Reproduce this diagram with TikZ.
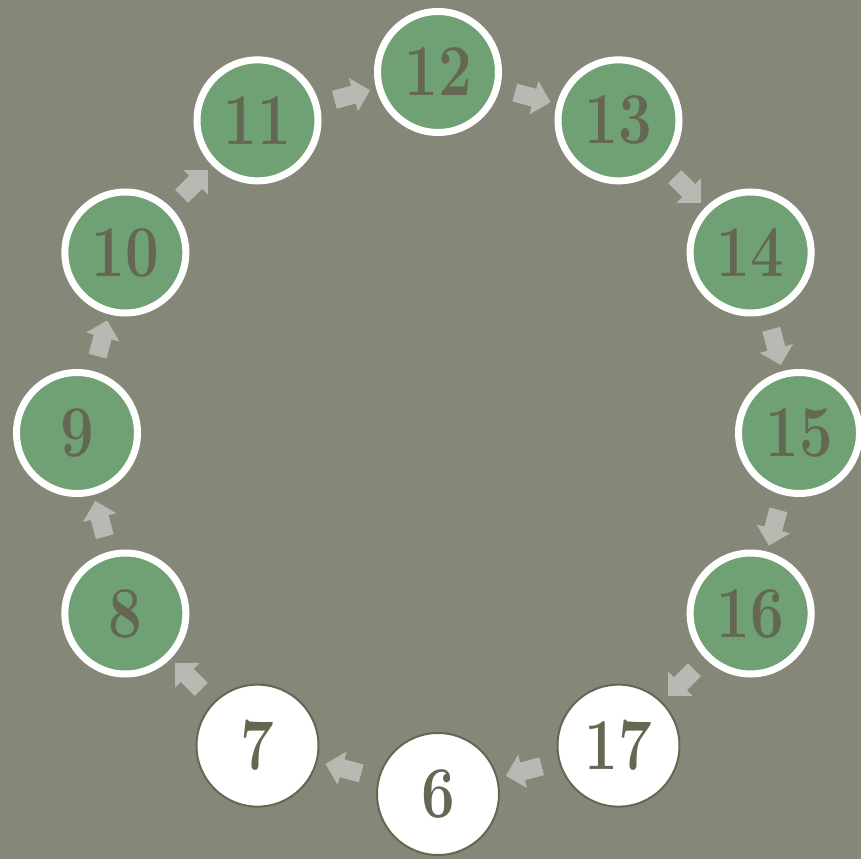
\documentclass[tikz,border=0pt]{standalone}
\usepackage{tikz}
\usepackage{xcolor}
\usepackage{graphicx}
\usetikzlibrary{shapes.arrows,calc}
\definecolor{bgcol}{HTML}{858879}
\definecolor{leaf}{HTML}{6FA174}
\definecolor{ink}{HTML}{646852}
\definecolor{flowgray}{HTML}{B8B9B3}
\newcommand{\hnum}[1]{\scalebox{0.82}[1]{#1}}
\begin{document}
\begin{tikzpicture}[x=1pt,y=1pt,
  hour/.style={circle,minimum size=121pt,inner sep=0pt,line width=7pt,draw=white,fill=leaf,text=ink,font=\fontsize{73}{73}\selectfont\bfseries},
  rest/.style={hour,fill=white,draw=ink,line width=2pt,minimum size=122pt},
  flow/.style={single arrow,fill=flowgray,inner sep=9pt,minimum height=37pt,single arrow head extend=8pt,single arrow head indent=0pt}]
\fill[bgcol] (-438,-426) rectangle (423,433);\useasboundingbox (-438,-426) rectangle (423,433);
\foreach \n in {8,...,16} {\node[hour] (h\n) at ({90-30*(\n-12)}:361) {\hnum{\n}};}
\foreach \n in {6,7,17} {\node[rest] (h\n) at ({90-30*(\n-12)}:361) {\hnum{\n}};}
\foreach \a/\b in {6/7,7/8,8/9,9/10,10/11,11/12,12/13,13/14,14/15,15/16,16/17,17/6} {\node[flow,rotate={-15-30*(\a-12)}] (f\a) at ($(h\a)!0.5!(h\b)$) {};}
\end{tikzpicture}
\end{document}
